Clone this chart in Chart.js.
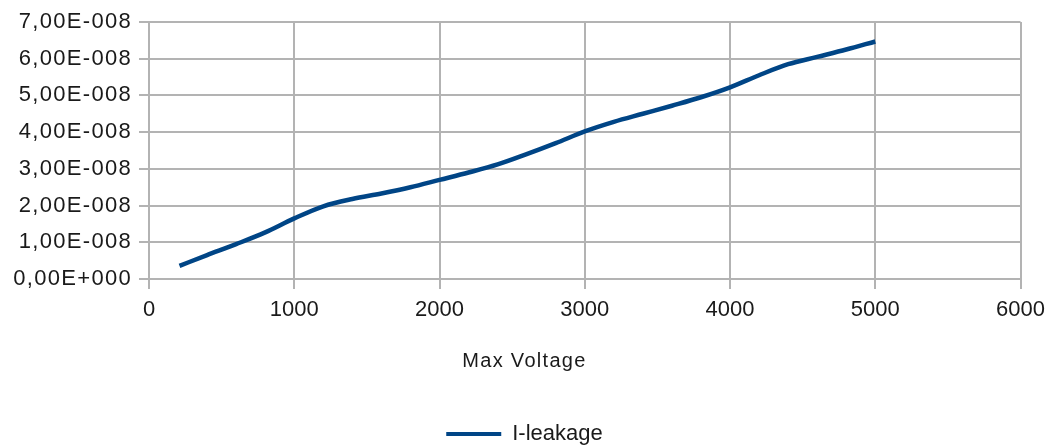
<!DOCTYPE html>
<html lang="en">
<head>
  <meta charset="UTF-8" />
  <title>I-leakage vs Max Voltage</title>
  <script src="https://cdn.jsdelivr.net/npm/chart.js"></script>
  <style>
    html, body { margin:0; padding:0; background:#fff; }
    #wrap { width:1053px; height:446px; }
  </style>
</head>
<body>
  <div id="wrap"><canvas id="chart"></canvas></div>

  <script>
    // values
    const voltage = [210, 400, 600, 800, 1000, 1200, 1400, 1600, 1800, 2000, 2200, 2400, 2600,
                     2800, 3000, 3200, 3400, 3600, 3800, 4000, 4200, 4400, 4600, 4800, 5000];
    const leakage = [3.6e-9, 6.5e-9, 9.5e-9, 1.27e-8, 1.65e-8, 1.98e-8, 2.18e-8, 2.33e-8, 2.5e-8,
                     2.7e-8, 2.9e-8, 3.12e-8, 3.4e-8, 3.7e-8, 4.02e-8, 4.28e-8, 4.5e-8, 4.72e-8,
                     4.95e-8, 5.22e-8, 5.55e-8, 5.85e-8, 6.05e-8, 6.25e-8, 6.47e-8];
    const xTicks = [0, 1000, 2000, 3000, 4000, 5000, 6000];
    const yTicks = [0, 1e-8, 2e-8, 3e-8, 4e-8, 5e-8, 6e-8, 7e-8];

    const FONT = "'Liberation Sans', Arial, sans-serif";
    const GRID = '#b3b3b3';
    const BLUE = '#004586';
    const TEXT = '#1a1a1a';

    // 7e-8 -> "7,00E-008"
    function sci(v) {
      if (v === 0) return '0,00E+000';
      let exp = Math.floor(Math.log10(Math.abs(v)));
      let mant = v / Math.pow(10, exp);
      if (Math.round(mant * 100) >= 1000) { mant /= 10; exp += 1; }
      const sign = exp < 0 ? '-' : '+';
      return mant.toFixed(2).replace('.', ',') + 'E' + sign + String(Math.abs(exp)).padStart(3, '0');
    }

    // wraps a draw function so its text gets a little letter spacing (LibreOffice look)
    function spaced(fn, px) {
      return function () {
        const ctx = this.ctx;
        ctx.save();
        ctx.letterSpacing = px;
        fn.apply(this, arguments);
        ctx.restore();
      };
    }

    const spacingPlugin = {
      id: 'spacing',
      beforeDraw(chart) {
        if (chart._spaced) return;
        chart._spaced = true;
        const y = chart.scales.y;
        y.drawLabels = spaced(y.drawLabels, '1.3px');
        if (chart.titleBlock) chart.titleBlock.draw = spaced(chart.titleBlock.draw, '1.3px');
      }
    };

    new Chart(document.getElementById('chart'), {
      type: 'line',
      data: {
        datasets: [{
          label: 'I-leakage',
          data: voltage.map((v, i) => ({ x: v, y: leakage[i] })),
          borderColor: BLUE,
          backgroundColor: BLUE,
          borderWidth: 4.5,
          pointRadius: 0,
          fill: false,
          cubicInterpolationMode: 'monotone'
        }]
      },
      plugins: [spacingPlugin],
      options: {
        responsive: true,
        maintainAspectRatio: false,
        animation: false,
        layout: { padding: { top: 22, right: 14, left: 10, bottom: -9 } },
        scales: {
          x: {
            type: 'linear',
            min: 0, max: 6000,
            afterBuildTicks: ax => { ax.ticks = xTicks.map(v => ({ value: v })); },
            afterFit: ax => { ax.height = 67; },
            grid: { color: GRID, lineWidth: 2, tickLength: 10, tickColor: GRID },
            border: { color: GRID, width: 2 },
            ticks: { color: TEXT, font: { family: FONT, size: 22 }, padding: 8, maxRotation: 0,
                     callback: v => String(v) }
          },
          y: {
            min: 0, max: 7e-8,
            afterBuildTicks: ax => { ax.ticks = yTicks.map(v => ({ value: v })); },
            afterFit: ax => { ax.width = 139; },
            grid: { color: GRID, lineWidth: 2, tickLength: 10, tickColor: GRID },
            border: { color: GRID, width: 2 },
            ticks: { color: TEXT, font: { family: FONT, size: 22 }, padding: 7, callback: v => sci(v) }
          }
        },
        plugins: {
          title: {
            display: true,
            text: 'Max Voltage',
            position: 'bottom',
            weight: 500,
            color: TEXT,
            font: { family: FONT, size: 20, weight: 'normal' },
            padding: { top: 3, bottom: 49 }
          },
          legend: {
            position: 'bottom',
            labels: {
              color: TEXT,
              font: { family: FONT, size: 22 },
              boxWidth: 55,
              boxHeight: 4,
              padding: 1,
              generateLabels: chart => Chart.defaults.plugins.legend.labels.generateLabels(chart)
                .map(l => Object.assign(l, { lineWidth: 0 }))
            }
          },
          tooltip: { enabled: false }
        }
      }
    });
  </script>
</body>
</html>
